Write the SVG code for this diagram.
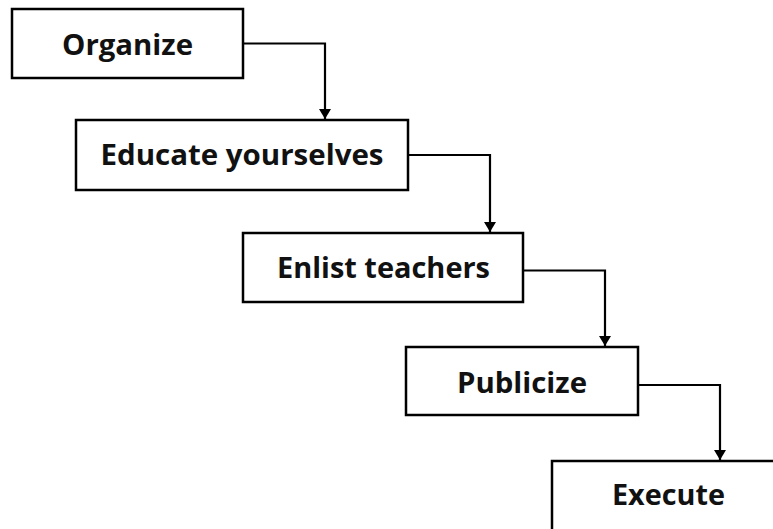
<svg xmlns="http://www.w3.org/2000/svg" width="773" height="529" viewBox="0 0 773 529">
<defs>
<style>
.box{fill:#fff;stroke:#000;stroke-width:2.5}
.lbl{font-family:"Open Sans","Liberation Sans",sans-serif;font-weight:bold;font-size:29px;fill:#111;text-anchor:middle}
.con{fill:none;stroke:#000;stroke-width:2.2}
</style>
<marker id="arr" viewBox="0 0 10 12" refX="10" refY="6" markerWidth="10" markerHeight="12" markerUnits="userSpaceOnUse" orient="auto">
<path d="M0,0 L10,6 L0,12 Z" fill="#000"/>
</marker>
</defs>
<rect width="773" height="529" fill="#fff"/>
<g id="connectors">
<path class="con" d="M243,43.5 H325 V119" marker-end="url(#arr)"/>
<path class="con" d="M408,155 H490 V232" marker-end="url(#arr)"/>
<path class="con" d="M523,270.5 H605 V346" marker-end="url(#arr)"/>
<path class="con" d="M638,385 H720 V460" marker-end="url(#arr)"/>
</g>
<g id="organize">
<rect class="box" x="12" y="9" width="231" height="69"/>
<text class="lbl" x="127.5" y="55" textLength="131" lengthAdjust="spacingAndGlyphs">Organize</text>
</g>
<g id="educate">
<rect class="box" x="76" y="120" width="332" height="70"/>
<text class="lbl" x="242" y="165" textLength="283" lengthAdjust="spacingAndGlyphs">Educate yourselves</text>
</g>
<g id="enlist">
<rect class="box" x="243" y="233" width="280" height="69"/>
<text class="lbl" x="383.5" y="278" textLength="213" lengthAdjust="spacingAndGlyphs">Enlist teachers</text>
</g>
<g id="publicize">
<rect class="box" x="406" y="347" width="232" height="68"/>
<text class="lbl" x="522" y="393" textLength="130" lengthAdjust="spacingAndGlyphs">Publicize</text>
</g>
<g id="execute">
<rect class="box" x="552" y="461" width="240" height="80"/>
<text class="lbl" x="668.5" y="505" textLength="113" lengthAdjust="spacingAndGlyphs">Execute</text>
</g>
</svg>
